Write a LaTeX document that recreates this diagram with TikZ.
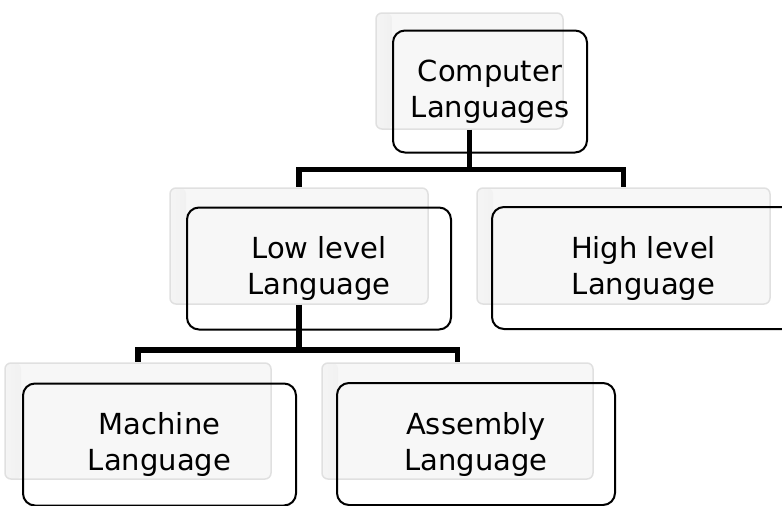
\documentclass[tikz,border=0pt]{standalone}
\usepackage{fontspec}
\setmainfont{DejaVu Sans}
\usepackage{tikz}
\usetikzlibrary{shapes.geometric}
\tikzstyle{backdrop} = [rectangle, rounded corners=6pt,
minimum height=116pt,
draw=black!12,
line width=1.5pt,
fill=black!3,
path picture={\fill[left color=black!4, right color=black!3, middle color=black!16]
  (path picture bounding box.north west) rectangle
  ([xshift=16pt]path picture bounding box.south west);}]
\tikzstyle{langbox} = [rectangle, rounded corners=12pt,
minimum height=122pt,
text centered,
align=center,
draw=black,
line width=2pt,
font=\fontsize{29}{36}\selectfont]
\tikzstyle{branch} = [line width=5.5pt, black]

\begin{document}
\begin{tikzpicture}[x=1pt, y=-1pt, node distance=175pt]
			\useasboundingbox (0,0) rectangle (782,506);
			
			% grey backing boxes, the tree hangs off these
			\node (cl) [backdrop, minimum width=187pt] at (469.5,71) {};
			\node (low) [backdrop, minimum width=258pt, below of=cl, xshift=-170.5pt] {};
			\node (high) [backdrop, minimum width=293pt, below of=cl, xshift=154pt] {};
			\node (mach) [backdrop, minimum width=266pt, below of=low, xshift=-161pt] {};
			\node (asm) [backdrop, minimum width=271pt, below of=low, xshift=158.5pt] {};
			
			\draw [branch] (cl.south) -- +(0,39.5) -| (low.north);
			\draw [branch] (cl.south) -- +(0,39.5) -| (high.north);
			\draw [branch] (low.south) -- +(0,45) -| (mach.north);
			\draw [branch] (low.south) -- +(0,45) -| (asm.north);
			
			% framed labels, shifted off the backing boxes
			\node (clt) [langbox, minimum width=194pt, xshift=20.5pt, yshift=-20.5pt] at (cl) {Computer\\Languages};
			\node (lowt) [langbox, minimum width=264pt, xshift=20pt, yshift=-22.5pt] at (low) {Low level\\Language};
			\node (hight) [langbox, minimum width=303pt, xshift=20pt, yshift=-22pt] at (high) {High level\\Language};
			\node (macht) [langbox, minimum width=273pt, xshift=21.5pt, yshift=-23.5pt] at (mach) {Machine\\Language};
			\node (asmt) [langbox, minimum width=278pt, xshift=18.5pt, yshift=-23pt] at (asm) {Assembly\\Language};
			
		\end{tikzpicture}
\end{document}
